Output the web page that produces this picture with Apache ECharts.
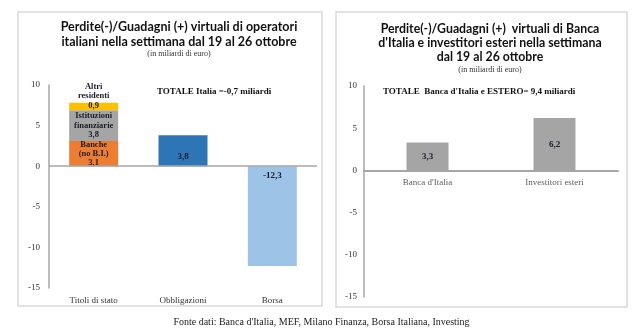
<!DOCTYPE html>
<html>
<head>
<meta charset="utf-8">
<script src="https://cdn.jsdelivr.net/npm/echarts@6/dist/echarts.min.js"></script>
<style>html,body{margin:0;padding:0;background:#fff}#c{width:643px;height:330px}</style>
</head>
<body>
<div id="c"></div>
<script>
// ---- data ----
const catsLeft = ['Titoli di stato', 'Obbligazioni', 'Borsa'];
const banche = [3.1, null, null];
const istituzioni = [3.8, null, null];
const altriResidenti = [0.9, null, null];
const obbligBorsa = [null, 3.8, -12.3];
const catsRight = ["Banca d'Italia", 'Investitori esteri'];
const valuesRight = [3.3, 6.2];
const yTicks = { min: -15, max: 10, interval: 5 };
const titleLeft = 'Perdite(-)/Guadagni (+) virtuali di operatori\nitaliani nella settimana dal 19 al 26 ottobre';
const titleRight = "Perdite(-)/Guadagni (+)  virtuali di Banca\nd'Italia e investitori esteri nella settimana\ndal 19 al 26 ottobre";
const subTitle = '(in miliardi di euro)';
const totalLeft = 'TOTALE Italia =-0,7 miliardi';
const totalRight = "TOTALE  Banca d'Italia e ESTERO= 9,4 miliardi";
const source = "Fonte dati: Banca d'Italia, MEF, Milano Finanza, Borsa Italiana, Investing";

const fmt = v => v.toFixed(1).replace('.', ',');
const SERIF = '"Liberation Serif", serif';
const SANS = 'Lato, "Noto Sans", sans-serif';
const labelStyle = { fontFamily: SERIF, fontSize: 8.5, fontWeight: 'bold', color: '#1c1c2c', lineHeight: 9 };
const axisGray = '#a6a6a6';

const chart = echarts.init(document.getElementById('c'), null, { renderer: 'canvas' });

const yAxisBase = {
  type: 'value', min: yTicks.min, max: yTicks.max, interval: yTicks.interval,
  splitLine: { show: false },
  axisLine: { show: true, lineStyle: { color: axisGray, width: 1.5 } },
  axisTick: { show: false },
  axisLabel: { fontFamily: SERIF, fontSize: 9, color: '#333' }
};

const option = {
  animation: false,
  title: [
    { text: titleLeft, subtext: subTitle, left: 174, top: 14, textAlign: 'center',
      textStyle: { fontFamily: SANS, fontSize: 12.5, fontWeight: 'bold', color: '#111', lineHeight: 15 },
      subtextStyle: { fontFamily: SERIF, fontSize: 8, color: '#333', lineHeight: 9 }, itemGap: 0 },
    { text: titleRight, subtext: subTitle, left: 485, top: 17, textAlign: 'center',
      textStyle: { fontFamily: SANS, fontSize: 12.3, fontWeight: 'bold', color: '#111', lineHeight: 14 },
      subtextStyle: { fontFamily: SERIF, fontSize: 8, color: '#333', lineHeight: 9 }, itemGap: 1 }
  ],
  graphic: [
    { type: 'rect', shape: { x: 18, y: 12, width: 304, height: 294 }, style: { fill: 'none', stroke: '#d9d9d9', lineWidth: 1.5 }, silent: true },
    { type: 'rect', shape: { x: 336, y: 12, width: 291, height: 295 }, style: { fill: 'none', stroke: '#d9d9d9', lineWidth: 1.5 }, silent: true },
    { type: 'text', left: 157, top: 87, style: { text: totalLeft, font: 'bold 9px "Liberation Serif", serif', fill: '#111' } },
    { type: 'text', left: 383, top: 87, style: { text: totalRight, font: 'bold 9px "Liberation Serif", serif', fill: '#111' } },
    { type: 'text', left: 'center', top: 317, style: { text: source, font: '10px "Liberation Serif", serif', fill: '#222' } }
  ],
  grid: [
    { left: 49, right: 326, top: 85, bottom: 42 },
    { left: 364, right: 25, top: 86, bottom: 33 }
  ],
  xAxis: [
    { type: 'category', gridIndex: 0, data: catsLeft, position: 'bottom',
      axisLine: { show: false, onZero: false }, axisTick: { show: false },
      axisLabel: { fontFamily: SERIF, fontSize: 9, color: '#333', margin: 8 } },
    { type: 'category', gridIndex: 1, data: catsRight,
      axisLine: { show: true, onZero: true, lineStyle: { color: axisGray, width: 2 } }, axisTick: { show: false },
      axisLabel: { show: false } }
  ],
  yAxis: [
    Object.assign({ gridIndex: 0 }, yAxisBase, { axisLabel: Object.assign({}, yAxisBase.axisLabel, { margin: 9 }) }),
    Object.assign({ gridIndex: 1 }, yAxisBase, { axisLabel: Object.assign({}, yAxisBase.axisLabel, { margin: 7 }) })
  ],
  series: [
    { name: 'Banche', type: 'bar', stack: 'L', xAxisIndex: 0, yAxisIndex: 0, data: banche, barWidth: 49,
      itemStyle: { color: '#ED7D31' },
      label: { show: true, position: 'inside', formatter: p => 'Banche\n(no B.I.)\n' + fmt(p.value), ...labelStyle },
      markLine: { silent: true, symbol: 'none', data: [{ yAxis: 0 }], label: { show: false },
        lineStyle: { color: axisGray, width: 1.5, type: 'solid' } } },
    { name: 'Istituzioni finanziarie', type: 'bar', stack: 'L', xAxisIndex: 0, yAxisIndex: 0, data: istituzioni, barWidth: 49,
      itemStyle: { color: '#A5A5A5' },
      label: { show: true, position: 'inside', formatter: p => 'Istituzioni\nfinanziarie\n' + fmt(p.value), ...labelStyle, lineHeight: 9.5 } },
    { name: 'Altri residenti', type: 'bar', stack: 'L', xAxisIndex: 0, yAxisIndex: 0, data: altriResidenti, barWidth: 49,
      itemStyle: { color: '#FFC000' },
      label: { show: true, position: 'insideBottom', distance: 0, formatter: p => 'Altri\nresidenti\n' + fmt(p.value), ...labelStyle, lineHeight: 9.5 } },
    { name: 'Obbligazioni/Borsa', type: 'bar', stack: 'L', xAxisIndex: 0, yAxisIndex: 0,
      data: obbligBorsa.map(v => v !== null && v < 0 ? { value: v, label: { position: 'insideTop', distance: 5 } } : v),
      barWidth: 49,
      itemStyle: { color: p => p.value < 0 ? '#9DC3E6' : '#2E75B6' },
      label: { show: true, position: 'insideBottom', distance: 5, formatter: p => fmt(p.value), ...labelStyle, fontSize: 9 } },
    { name: 'Banca/Estero', type: 'bar', xAxisIndex: 1, yAxisIndex: 1, data: valuesRight, barWidth: 42,
      itemStyle: { color: '#A5A5A5' },
      label: { show: true, position: 'inside', formatter: p => fmt(p.value), ...labelStyle, fontSize: 9 } },
    { name: 'catLabels', type: 'scatter', xAxisIndex: 1, yAxisIndex: 1, silent: true,
      data: catsRight.map(() => 0), symbolSize: 1, itemStyle: { color: 'rgba(0,0,0,0)' },
      label: { show: true, position: 'bottom', distance: 7, formatter: p => p.name,
        fontFamily: SERIF, fontSize: 9, color: '#333' } }
  ]
};

chart.setOption(option);
</script>
</body>
</html>
